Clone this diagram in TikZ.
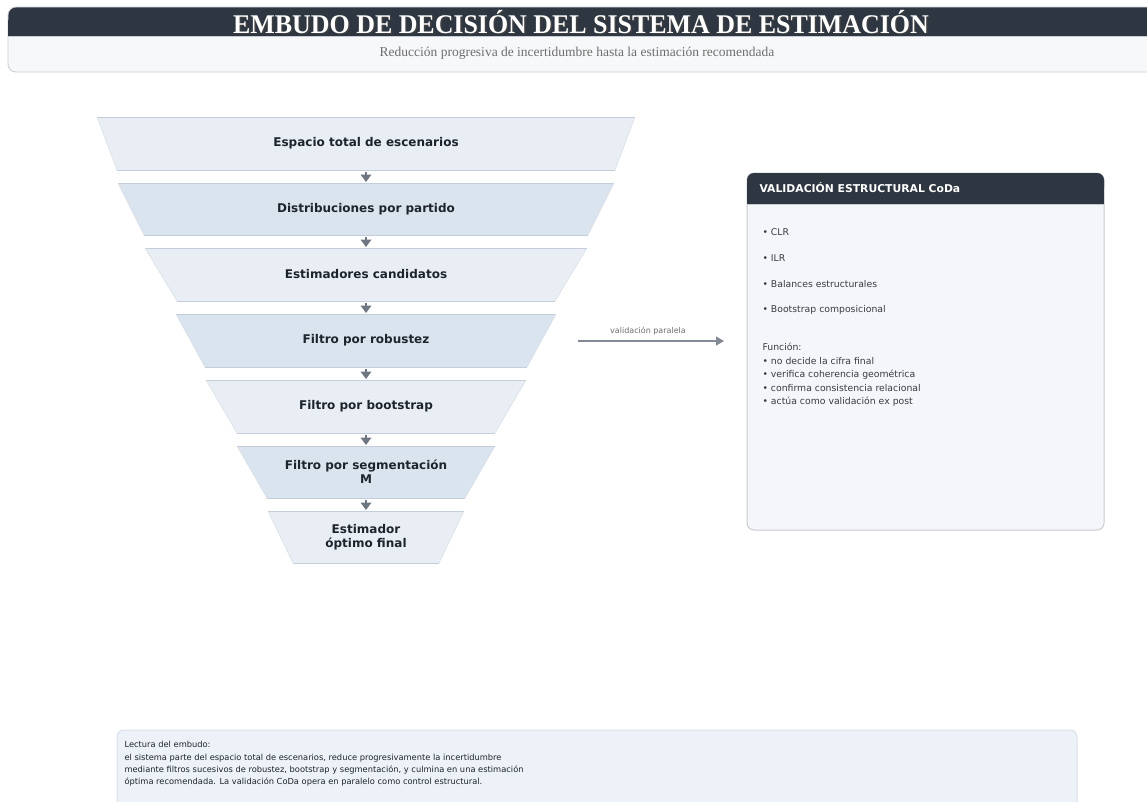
\documentclass[tikz,border=0pt]{standalone}
\usepackage{fontspec}
\setmainfont{DejaVu Sans}
\newfontfamily\titlefont{Liberation Serif}
\usetikzlibrary{arrows.meta}
\definecolor{darkhd}{RGB}{45,54,65}
\definecolor{hdlight}{RGB}{247,248,250}
\definecolor{hdborder}{RGB}{200,204,210}
\definecolor{layA}{RGB}{233,238,245}
\definecolor{layB}{RGB}{218,228,239}
\definecolor{layline}{RGB}{196,206,218}
\definecolor{arrowgray}{RGB}{110,118,130}
\definecolor{txtdark}{RGB}{30,36,44}
\definecolor{txtgray}{RGB}{55,60,66}
\definecolor{subgray}{RGB}{110,110,110}
\definecolor{panelbg}{RGB}{245,246,250}
\definecolor{panelborder}{RGB}{200,203,208}
\definecolor{notebg}{RGB}{237,242,248}
\definecolor{noteborder}{RGB}{218,225,233}
\tikzset{
  layertext/.style={font=\bfseries\fontsize{12}{14}\selectfont, text=txtdark, align=center},
  bullettext/.style={font=\fontsize{9.3}{12}\selectfont, text=txtgray, anchor=west},
  downtri/.style={fill=arrowgray, draw=none},
}
\newcommand{\layer}[8]{%
  \fill[#6] (366-#4,#2) -- (366+#4,#2) -- (366+#5,#3) -- (366-#5,#3) -- cycle;
  \draw[layline, line width=0.9pt] (366-#4,#2) -- (366+#4,#2);
  \draw[layline, line width=0.9pt] (366-#5,#3) -- (366+#5,#3);
  \draw[layline!70, line width=0.5pt] (366-#4,#2) -- (366-#5,#3);
  \draw[layline!70, line width=0.5pt] (366+#4,#2) -- (366+#5,#3);
  \node[layertext] (#1) at (366,{(#2+#3)/2+#8}) {#7};
}
\begin{document}
\begin{tikzpicture}[x=1pt,y=-1pt]
\useasboundingbox (0,0) rectangle (1147,801);
\fill[white] (0,0) rectangle (1147,801);
% header
\begin{scope}
\clip (0,0) rectangle (1147,801);
\filldraw[fill=hdlight, draw=hdborder, line width=0.8pt, rounded corners=8pt] (8,7) rectangle (1160,72);
\fill[darkhd, rounded corners=8pt] (8.4,7.4) rectangle (1160,30);
\fill[darkhd] (8.4,20) rectangle (1160,36);
\draw[hdborder, line width=0.8pt] (8.4,36) -- (1147,36);
\end{scope}
\node[font=\titlefont\bfseries\fontsize{27}{30}\selectfont, text=black!75, xscale=0.96] at (582.5,23.5) {EMBUDO DE DECISIÓN DEL SISTEMA DE ESTIMACIÓN};
\node[font=\titlefont\bfseries\fontsize{27}{30}\selectfont, text=white, xscale=0.96] (title) at (581,22) {EMBUDO DE DECISIÓN DEL SISTEMA DE ESTIMACIÓN};
\node[font=\titlefont\fontsize{13.5}{15}\selectfont, text=subgray, xscale=1.0] (subtitle) at (577,53) {Reducción progresiva de incertidumbre hasta la estimación recomendada};
% funnel
\layer{L1}{117}{170}{269}{249}{layA}{Espacio total de escenarios}{0}
\layer{L2}{183}{235}{248}{222}{layB}{Distribuciones por partido}{0}
\layer{L3}{248}{301}{221}{189}{layA}{Estimadores candidatos}{0}
\layer{L4}{314}{367}{190}{161}{layB}{Filtro por robustez}{0}
\layer{L5}{380}{433}{160}{129}{layA}{Filtro por bootstrap}{0}
\layer{L6}{446}{498}{129}{99}{layB}{Filtro por segmentación\\M}{0}
\layer{L7}{511}{563}{98}{73}{layA}{Estimador\\óptimo final}{0}
% small arrows between layers
\foreach \y in {171,236,302,368,434,499}{
  \fill[downtri] (360.5,\y+3.5) -- (371.5,\y+3.5) -- (366,\y+11) -- cycle;
  \fill[arrowgray] (365,\y+1) rectangle (367,\y+4);
}
% parallel arrow
\coordinate (pa) at (578,341);
\coordinate (pb) at (724,341);
\draw[arrowgray!85, line width=1.6pt, -{Triangle[length=8pt,width=9pt]}] (pa) -- (pb);
\node[font=\fontsize{8}{9}\selectfont, text=subgray] (pl) at (648,331) {validación paralela};
% panel
\filldraw[fill=panelbg, draw=panelborder, line width=1pt, rounded corners=7pt] (747,173) rectangle (1104,530);
\fill[darkhd, rounded corners=7pt] (747,173) rectangle (1104,195);
\fill[darkhd] (747,185) rectangle (1104,204);
\draw[panelborder, line width=0.8pt] (747,204) -- (1104,204);
\node[font=\bfseries\fontsize{10.8}{12}\selectfont, text=white, anchor=west] (ph) at (756,188) {VALIDACIÓN ESTRUCTURAL CoDa};
\node[bullettext] (b1) at (759,232) {• CLR};
\node[bullettext] (b2) at (759,258) {• ILR};
\node[bullettext] (b3) at (759,284) {• Balances estructurales};
\node[bullettext] (b4) at (759,310) {• Bootstrap composicional};
\node[bullettext, align=left, anchor=north west, font=\fontsize{9.3}{13.5}\selectfont] (fn) at (759,340) {Función:\\• no decide la cifra final\\• verifica coherencia geométrica\\• confirma consistencia relacional\\• actúa como validación ex post};
% bottom note
\begin{scope}
\clip (0,0) rectangle (1147,801);
\filldraw[fill=notebg, draw=noteborder, line width=1pt, rounded corners=7pt] (117,730) rectangle (1077,815);
\end{scope}
\node[font=\fontsize{8.3}{12.2}\selectfont, text=txtdark, align=left, anchor=north west] (note) at (121,738) {Lectura del embudo:\\el sistema parte del espacio total de escenarios, reduce progresivamente la incertidumbre\\mediante filtros sucesivos de robustez, bootstrap y segmentación, y culmina en una estimación\\óptima recomendada. La validación CoDa opera en paralelo como control estructural.};
\end{tikzpicture}
\end{document}
